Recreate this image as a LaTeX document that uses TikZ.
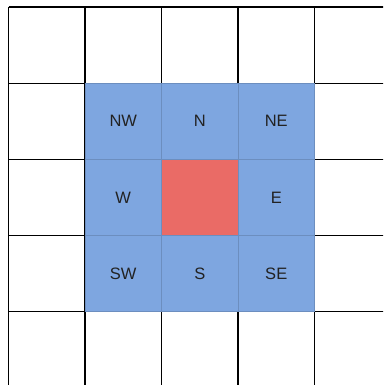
\documentclass[tikz,border=0pt]{standalone}
\usepackage{fontspec}
\setmainfont{Liberation Sans}
\definecolor{cellblue}{HTML}{7EA6E0}
\definecolor{cellstroke}{HTML}{6C8EBF}
\definecolor{cellred}{HTML}{EA6B66}
\definecolor{txt}{HTML}{222222}
\begin{document}
\begin{tikzpicture}[x=1pt,y=-1pt,
  gridline/.style={draw=black,line width=1.1pt},
  bluecell/.style={draw=cellstroke,fill=cellblue,line width=1pt,minimum width=76.5pt,minimum height=76.2pt,inner sep=0pt,outer sep=0pt,text=txt,font=\fontsize{16.5}{18}\selectfont},
  redcell/.style={bluecell,fill=cellred}]
\useasboundingbox (0,0) rectangle (383,385);
\clip (0,0) rectangle (383,385);
\foreach \i in {0,...,5} {
  \draw[gridline] (8.5+76.5*\i,7) -- (8.5+76.5*\i,400);
  \draw[gridline] (8.5,7+76.2*\i) -- (400,7+76.2*\i);
}
\node[bluecell] (nw) at (123.25,121.3) {NW};
\node[bluecell] (n)  at (199.75,121.3) {N};
\node[bluecell] (ne) at (276.25,121.3) {NE};
\node[bluecell] (w)  at (123.25,197.5) {W};
\node[redcell]  (c)  at (199.75,197.5) {};
\node[bluecell] (e)  at (276.25,197.5) {E};
\node[bluecell] (sw) at (123.25,273.7) {SW};
\node[bluecell] (s)  at (199.75,273.7) {S};
\node[bluecell] (se) at (276.25,273.7) {SE};
\end{tikzpicture}
\end{document}
